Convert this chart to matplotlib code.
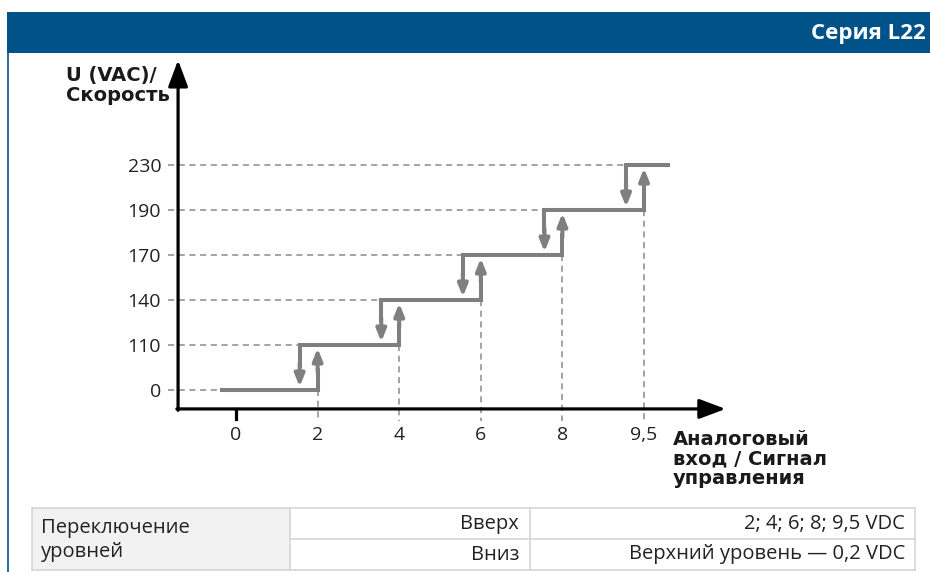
import numpy as np
import matplotlib
matplotlib.use("Agg")
from matplotlib import pyplot as plt
from matplotlib.patches import Rectangle

# chart values
levels = ["0", "110", "140", "170", "190", "230"]
x_labels = ["0", "2", "4", "6", "8", "9,5"]
down_offset = 0.22          # switching down happens 0,2 VDC below the up point
series_title = "Серия L22"
y_title = "U (VAC)/\nСкорость"
x_title = "Аналоговый\nвход / Сигнал\nуправления"
table_group = "Переключение\nуровней"
table_dirs = ["Вверх", "Вниз"]
table_vals = ["2; 4; 6; 8; 9,5 VDC", "Верхний уровень — 0,2 VDC"]

W, H = 930, 572
STEP = "#7f7f7f"
DASH = "#8a8a8a"
BLUE = "#02528a"
TXT = "#222222"

fig = plt.figure(figsize=(W / 100, H / 100), dpi=100)

# background layer in pixel coordinates (header, frame, table)
bg = fig.add_axes([0, 0, 1, 1])
bg.set_xlim(0, W)
bg.set_ylim(H, 0)
bg.axis("off")
bg.add_patch(Rectangle((7, 12), W - 7, 41, color=BLUE, lw=0))
bg.plot([7.5, 7.5], [53, H], color=BLUE, lw=1.2)
bg.text(926, 33, series_title, color="white", fontsize=16, fontweight="bold",
        family="Open Sans", ha="right", va="center")

# table
col_x = [32, 290, 530, 915]
row_y = [508, 539, 570]
bg.add_patch(Rectangle((col_x[0], row_y[0]), col_x[1] - col_x[0], row_y[2] - row_y[0],
                       facecolor="#f2f2f2", edgecolor="none"))
grid_c = "#d6d6d6"
bg.plot([col_x[0], col_x[3]], [row_y[0], row_y[0]], color=grid_c, lw=1.2)
bg.plot([col_x[0], col_x[3]], [row_y[2], row_y[2]], color=grid_c, lw=1.2)
bg.plot([col_x[1], col_x[3]], [row_y[1], row_y[1]], color=grid_c, lw=1.2)
for cx in col_x:
    bg.plot([cx, cx], [row_y[0], row_y[2]], color=grid_c, lw=1.2)
bg.text(41, (row_y[0] + row_y[2]) / 2 + 1, table_group, fontsize=14.5, family="Open Sans",
        color=TXT, ha="left", va="center", linespacing=1.3)
for i in range(len(table_dirs)):
    yc = (row_y[i] + row_y[i + 1]) / 2
    bg.text(col_x[2] - 11, yc, table_dirs[i], fontsize=14.5, family="Open Sans",
            color=TXT, ha="right", va="center")
    bg.text(col_x[3] - 10, yc, table_vals[i], fontsize=14.5, family="Open Sans",
            color=TXT, ha="right", va="center")

# axis titles
bg.text(66, 66, y_title, fontsize=14, fontweight="bold", family="DejaVu Sans",
        ha="left", va="top", linespacing=1.05, color="#1a1a1a")
bg.text(673, 430, x_title, fontsize=14, fontweight="bold", family="DejaVu Sans",
        ha="left", va="top", linespacing=1.05, color="#1a1a1a")

# chart
ax = fig.add_axes([0.1748, 0.2552, 0.623, 0.6451])
ax.set_xlim(-0.9, 6.2)
ax.set_ylim(-0.8, 7.4)
for s in ax.spines.values():
    s.set_visible(False)
ax.patch.set_alpha(0)

xp = np.arange(len(x_labels))
yp = np.arange(len(levels))
up = xp[1:]
down = up - down_offset
x_axis_y = -0.42
y_axis_x = -0.71

ax.set_xticks(xp, x_labels, family="Open Sans", fontsize=14, color=TXT)
ax.set_yticks(yp, levels, family="Open Sans", fontsize=14, color=TXT)
ax.tick_params(length=0)
ax.tick_params(axis="x", pad=0)
ax.tick_params(axis="y", pad=1)

dash = (0, (4, 3))
# horizontal guides to the left end of each level
left_ends = np.concatenate([[-0.2], down])
for k in range(len(levels)):
    ax.plot([-0.83, left_ends[k]], [yp[k], yp[k]], color=DASH, lw=1.1, ls=dash, zorder=1)
# vertical guides below each up point
for k in range(len(up)):
    ax.plot([up[k], up[k]], [yp[k], -0.68], color=DASH, lw=1.1, ls=dash, zorder=1,
            clip_on=False)

# step levels with their corners
right_ends = np.concatenate([up, [5.32]])
for k in range(len(levels)):
    xs, ys = [], []
    if k > 0:
        xs += [down[k - 1], down[k - 1]]
        ys += [yp[k] - 0.5, yp[k]]
    else:
        xs.append(left_ends[0])
        ys.append(yp[0])
    xs.append(right_ends[k])
    ys.append(yp[k])
    if k < len(up):
        xs.append(up[k])
        ys.append(yp[k] + 0.5)
    ax.plot(xs, ys, color=STEP, lw=2.9, solid_joinstyle="miter", solid_capstyle="butt",
            zorder=3)

arrow_kw = dict(arrowstyle="-|>,head_length=0.6,head_width=0.24", color=STEP, lw=2.9,
                shrinkA=0, shrinkB=0, mutation_scale=12)
gap = 0.07
for k in range(len(up)):
    ax.annotate("", xy=(up[k], yp[k + 1] - gap), xytext=(up[k], yp[k] + 0.4),
                arrowprops=arrow_kw, zorder=3)
    ax.annotate("", xy=(down[k], yp[k] + gap), xytext=(down[k], yp[k + 1] - 0.4),
                arrowprops=arrow_kw, zorder=3)

# axes with arrow heads
axis_kw = dict(arrowstyle="-|>,head_length=0.8,head_width=0.3", color="black", lw=2.3,
               shrinkA=0, shrinkB=0, mutation_scale=20)
ax.annotate("", xy=(y_axis_x, 7.33), xytext=(y_axis_x, x_axis_y - 0.03), arrowprops=axis_kw,
            zorder=4)
ax.annotate("", xy=(6.0, x_axis_y), xytext=(y_axis_x - 0.015, x_axis_y), arrowprops=axis_kw,
            zorder=4)
ax.plot([0, 0], [x_axis_y, -0.64], color="black", lw=2.3, zorder=4, clip_on=False)

fig.savefig("out.png", dpi=100)
